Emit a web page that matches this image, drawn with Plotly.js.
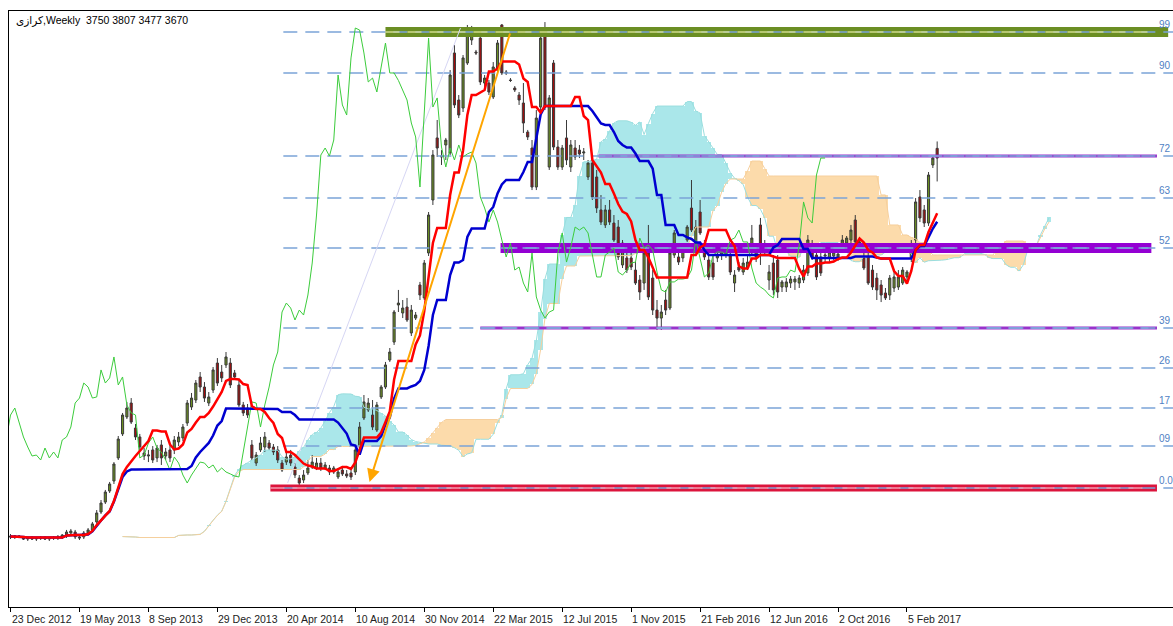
<!DOCTYPE html>
<html><head><meta charset="utf-8">
<script src="https://cdn.plot.ly/plotly-3.0.1.min.js"></script>
<style>html,body{margin:0;padding:0;background:#fff;overflow:hidden}#chart{width:1173px;height:626px}</style>
</head><body><div id="chart"></div>
<script>
// ---------- data ----------
const symbolName = 'کرازی';
const timeframe = 'Weekly';
const lastOHLC = [3750, 3807, 3477, 3670];

const tickBars = [0,16,32,48,64,80,96,112,128,144,160,176,192,208];
const tickLabels = ['23 Dec 2012','19 May 2013','8 Sep 2013','29 Dec 2013','20 Apr 2014','10 Aug 2014','30 Nov 2014','22 Mar 2015','12 Jul 2015','1 Nov 2015','21 Feb 2016','12 Jun 2016','2 Oct 2016','5 Feb 2017'];

const open = [
552,544,552,536,527,536,527,536,536,527,
536,536,544,552,577,585,544,544,577,602,
668,750,832,923,1006,1196,1394,1534,1649,1443,
1369,1237,1212,1262,1196,1303,1212,1262,1262,1328,
1361,1484,1616,1674,1864,1781,1649,1756,1979,1905,
1963,1979,1897,1798,1633,1608,1303,1154,1262,1286,
1319,1286,1262,1154,1162,1220,1121,1030,1014,1072,
1121,1113,1154,1113,1113,1080,1039,1096,1064,1072,
1080,1286,1526,1592,1550,1426,1699,1781,2004,2152,
2458,2392,2441,2227,2350,2623,2516,2887,3324,3836,
3679,3778,3712,4537,4149,4083,4454,4644,4545,4660,
4289,4289,4174,4396,4768,4380,4314,4248,4190,4124,
3885,3753,3431,4091,4743,3596,4454,3761,3596,3836,
3596,3753,3736,3712,3514,3629,3514,3242,3118,3242,
3134,3101,2788,2846,2846,2746,2664,2639,2912,2680,
2416,2350,2499,2433,2870,2854,2846,2994,3258,2936,
3225,2936,2829,2804,2846,2870,2870,2870,2639,2771,
2730,2763,2895,2854,3118,2953,2664,2804,2829,2606,
2606,2639,2648,2639,2664,2722,2928,2870,2854,2862,
2846,2862,2854,2912,2969,2994,3159,2936,2846,2854,
2746,2680,2623,2557,2540,2598,2606,2639,2689,2846,
2994,3349,3242,3134,3613,3750];
const high = [
568,560,560,552,544,552,544,552,552,544,
552,560,568,602,610,602,568,593,618,668,
766,849,932,998,1162,1377,1567,1658,1690,1476,
1394,1278,1262,1294,1303,1344,1278,1303,1377,1410,
1476,1674,1732,1839,1905,1822,1740,1946,2020,1963,
2070,2020,1922,1839,1658,1641,1344,1245,1369,1410,
1344,1311,1294,1179,1245,1262,1154,1055,1096,1179,
1220,1196,1196,1162,1138,1130,1113,1130,1096,1096,
1303,1492,1715,1690,1674,1658,1798,1988,2103,2416,
2582,2499,2516,2458,2400,2648,2829,3225,3736,3984,
3736,3836,4396,4603,4190,4520,4768,4760,4562,4685,
4355,4314,4462,4644,4776,4396,4330,4264,4215,4289,
3902,3819,4066,4685,4792,4190,4479,3819,3778,3984,
3819,3819,3778,3753,3654,3695,3572,3365,3283,3324,
3200,3159,2994,2912,2895,2812,2705,2928,3118,2746,
2499,2458,2582,2912,3076,2912,2953,3118,3489,3159,
3324,2994,2887,2870,2953,2928,2953,2912,2746,2812,
2846,2870,3118,2953,3176,2994,2788,2870,2870,2664,
2680,2697,2697,2705,2788,3035,2994,2912,2912,2912,
2928,2928,2912,3035,3027,3118,3200,2994,2912,2912,
2788,2722,2664,2598,2705,2746,2746,2771,2746,2994,
3340,3406,3283,3555,3695,3807];
const low = [
527,527,536,519,511,519,511,519,519,511,
519,519,527,536,552,527,519,527,560,585,
652,734,816,907,981,1179,1377,1517,1476,1344,
1262,1179,1162,1154,1162,1138,1179,1162,1228,1294,
1336,1460,1592,1649,1740,1658,1624,1732,1790,1822,
1938,1773,1839,1616,1542,1526,1179,1130,1245,1245,
1262,1220,1154,1080,1138,1130,1030,956,989,1055,
1105,1096,1088,1096,1055,1064,1022,1047,1030,1014,
1055,1270,1509,1575,1426,1410,1682,1765,1988,2128,
2400,2350,2318,2202,2334,2499,2499,2862,3283,3679,
3613,3654,3695,4083,4000,4050,4438,4603,4520,4273,
4248,4190,4157,4380,4355,4355,4298,4215,4108,3877,
3819,3406,3406,4066,4066,3572,3736,3572,3572,3613,
3555,3654,3670,3654,3489,3324,3217,3118,3093,3118,
2978,2829,2763,2722,2746,2623,2499,2582,2499,2375,
2252,2252,2375,2416,2846,2788,2812,2978,3060,2912,
3035,2829,2664,2664,2812,2829,2846,2705,2565,2730,
2705,2746,2870,2812,2788,2870,2582,2540,2516,2565,
2565,2598,2582,2598,2639,2697,2829,2664,2697,2812,
2812,2829,2821,2887,2944,2969,2961,2912,2746,2623,
2582,2499,2482,2499,2499,2565,2582,2623,2664,2812,
2969,3142,3101,3110,3588,3477];
const close = [
544,552,544,527,536,527,536,536,527,536,
540,544,560,585,593,544,536,577,602,652,
742,824,915,981,1146,1352,1550,1608,1492,1369,
1286,1212,1220,1179,1278,1196,1245,1196,1344,1369,
1451,1649,1690,1814,1781,1690,1699,1922,1814,1856,
2029,1798,1864,1633,1567,1550,1196,1220,1319,1369,
1278,1245,1179,1096,1204,1154,1055,989,1055,1113,
1162,1154,1113,1138,1080,1113,1080,1064,1047,1039,
1262,1451,1658,1649,1451,1633,1781,1963,2070,2400,
2474,2433,2334,2416,2375,2540,2804,3200,3695,3753,
3687,3819,4355,4108,4025,4496,4743,4726,4537,4298,
4330,4215,4421,4619,4372,4372,4310,4232,4149,3959,
3844,3431,4000,4660,4091,4166,3761,3596,3753,3654,
3778,3679,3704,3720,3629,3349,3258,3142,3242,3142,
2994,2854,2969,2746,2771,2639,2565,2887,2524,2416,
2350,2400,2416,2887,3052,2812,2936,3101,3076,3101,
3052,2854,2689,2689,2870,2895,2928,2730,2705,2746,
2804,2812,3010,2928,2953,2912,2730,2582,2565,2648,
2648,2672,2672,2680,2746,2994,2854,2689,2722,2870,
2895,2895,2878,2994,3010,3076,2978,2978,2763,2639,
2606,2582,2540,2516,2680,2689,2689,2746,2730,2953,
3308,3176,3134,3530,3670,3670];

const fibLabels = ['99','90','72','63','52','39','26','17','09','0.0'];
const fibPrices = [4710,4372,3687,3340,2928,2268,1938,1608,1294,948];

// ---------- drawing setup ----------
const N = close.length;
const bars = Array.from({length: N}, (_, i) => i);
const TEN = 9, KIJ = 26, SPB = 52, SHIFT = 26;
function midRange(i, p) {
  let hh = -Infinity, ll = Infinity;
  for (let k = Math.max(0, i - p + 1); k <= i; k++) { hh = Math.max(hh, high[k]); ll = Math.min(ll, low[k]); }
  return (hh + ll) / 2;
}
const tenkan = bars.map(i => midRange(i, TEN));
const kijun = bars.map(i => midRange(i, KIJ));
const spanA = bars.map(i => (tenkan[i] + kijun[i]) / 2);
const spanB = bars.map(i => midRange(i, SPB));
const spanX = bars.map(i => i + SHIFT);
const chikouX = bars.map(i => i - SHIFT);

const CYAN = '#aae7ea', PEACH = '#fcdbab';
const traces = [];
traces.push({type:'bar', x: spanX, base: bars.map(i => Math.min(spanA[i], spanB[i])),
  y: bars.map(i => Math.abs(spanA[i] - spanB[i])), width: 1,
  marker:{color: bars.map(i => spanA[i] >= spanB[i] ? CYAN : PEACH), line:{width:0}}, hoverinfo:'skip'});
traces.push({type:'scatter', mode:'lines', x: spanX, y: spanA, line:{color:'#9adede', width:1}, hoverinfo:'skip'});
traces.push({type:'scatter', mode:'lines', x: spanX, y: spanB, line:{color:'#f6cf9c', width:1}, hoverinfo:'skip'});

// horizontal objects on fib levels
const bands = [
  {lvl:0, from:87, to:268.6, color:'#6b8e23', w:10, dash:'#cfdc8c'},
  {lvl:2, from:136.4, to:266, color:'#9932cc', w:3, dash:'#7fa6dc'},
  {lvl:4, from:113.7, to:264.7, color:'#9400d3', w:10, dash:'#7fa6dc'},
  {lvl:5, from:109, to:266, color:'#9932cc', w:3, dash:'#7fa6dc'},
  {lvl:9, from:60.3, to:266, color:'#dc143c', w:7, dash:'#f29aae'}
];
bands.forEach(b => traces.push({type:'scatter', mode:'lines', x:[b.from, b.to], y:[fibPrices[b.lvl], fibPrices[b.lvl]],
  line:{color:b.color, width:b.w}, hoverinfo:'skip'}));
// fib dashed lines
const fibX = [], fibY = [];
fibPrices.forEach(p => { fibX.push(63.3, 270, null); fibY.push(p, p, null); });
traces.push({type:'scatter', mode:'lines', x: fibX, y: fibY, line:{color:'#7ba4d8', width:1.5, dash:'14px,8px'}, hoverinfo:'skip'});
bands.forEach(b => traces.push({type:'scatter', mode:'lines', x:[b.from, Math.min(b.to, 264)], y:[fibPrices[b.lvl], fibPrices[b.lvl]],
  line:{color:b.dash, width:1.5, dash:'14px,8px'}, hoverinfo:'skip'}));
// fib base diagonal
traces.push({type:'scatter', mode:'lines', x:[64.3, 104.4], y:[990, 4743], line:{color:'#d6d6f4', width:1}, hoverinfo:'skip'});

traces.push({type:'candlestick', x: bars, open, high, low, close, whiskerwidth:0,
  increasing:{line:{color:'#3a3a3a', width:1}, fillcolor:'#6b8e23'},
  decreasing:{line:{color:'#3a3a3a', width:1}, fillcolor:'#a30d0d'}, hoverinfo:'skip'});

traces.push({type:'scatter', mode:'lines', x: chikouX, y: close, line:{color:'#3ccc3c', width:1}, hoverinfo:'skip'});
traces.push({type:'scatter', mode:'lines', x: bars, y: kijun, line:{color:'#0000d0', width:2.5, shape:'linear'}, hoverinfo:'skip'});
traces.push({type:'scatter', mode:'lines', x: bars, y: tenkan, line:{color:'#ff0000', width:2.5}, hoverinfo:'skip'});

const F = 'Liberation Sans, DejaVu Sans, Arial, sans-serif';
const annotations = [];
annotations.push({xref:'paper', yref:'paper', x:0.0043, y:1, xanchor:'left', yanchor:'top', yshift:-1, showarrow:false,
  text: symbolName + ',' + timeframe + '  ' + lastOHLC.join(' '), font:{family:F, size:10.5, color:'#000'}});
tickBars.forEach((b, k) => annotations.push({xref:'x', yref:'paper', x:b, y:0, xanchor:'left', yanchor:'top', yshift:-4, xshift:-1,
  showarrow:false, text: tickLabels[k], font:{family:F, size:10.5, color:'#222'}}));
fibPrices.forEach((p, k) => annotations.push({xref:'paper', yref:'y', x:0.9866, y:p, xanchor:'left', yanchor:'bottom', yshift:0,
  showarrow:false, text: fibLabels[k], font:{family:F, size:10, color:'#4f7fc4'}}));
annotations.push({xref:'x', yref:'y', axref:'x', ayref:'y', x:83.3, y:997, ax:116, ay:4710, text:'', showarrow:true,
  arrowhead:2, arrowsize:1.3, arrowwidth:2, arrowcolor:'#ffa500'});

const layout = {
  width:1173, height:626, margin:{l:9, r:0, t:11, b:19, pad:0},
  paper_bgcolor:'#ffffff', plot_bgcolor:'#ffffff', showlegend:false, hovermode:false,
  barmode:'overlay', bargap:0,
  xaxis:{range:[-0.35, 269.72], showgrid:false, zeroline:false, showline:true, linecolor:'#000', linewidth:1, mirror:true,
    tickvals:tickBars, ticks:'outside', ticklen:4, tickcolor:'#000', showticklabels:false, rangeslider:{visible:false}, fixedrange:true},
  yaxis:{range:[-33.75, 4883.25], showgrid:false, zeroline:false, showline:true, linecolor:'#000', linewidth:1,
    showticklabels:false, ticks:'', fixedrange:true},
  annotations
};
Plotly.newPlot('chart', traces, layout, {staticPlot:true, displayModeBar:false});
</script></body></html>
